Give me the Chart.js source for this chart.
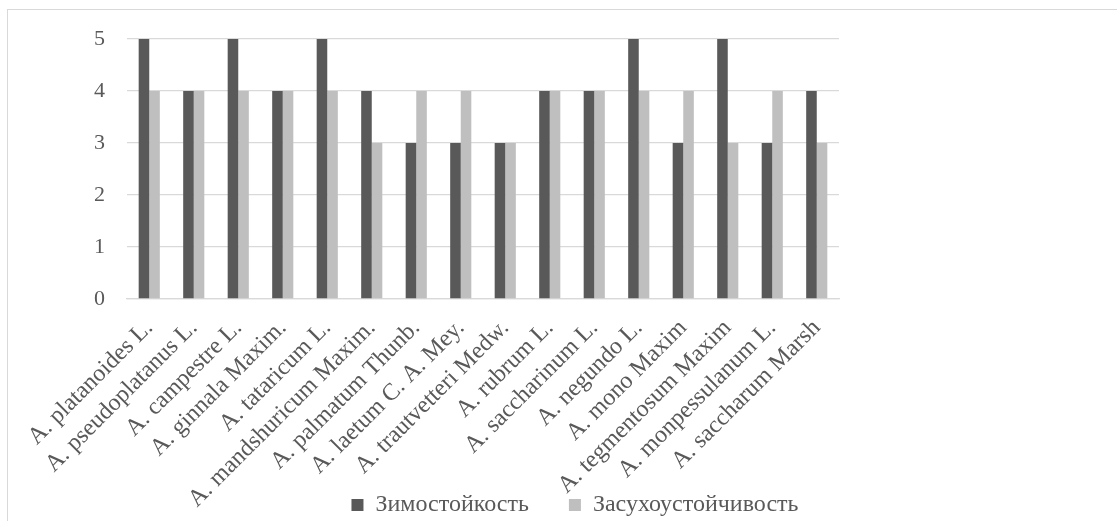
<!DOCTYPE html>
<html>
<head>
<meta charset="utf-8">
<script src="https://cdn.jsdelivr.net/npm/chart.js@4/dist/chart.umd.min.js"></script>
<style>
  html, body { margin: 0; padding: 0; background: #ffffff; overflow: hidden; }
  #frame {
    position: absolute; left: 7px; top: 9px;
    width: 1134px; height: 600px;
    border: 1px solid #d9d9d9; background: #ffffff;
  }
  canvas { display: block; }
</style>
</head>
<body>
<div id="frame"><canvas id="chart" width="1134" height="600" style="width:1134px;height:600px"></canvas></div>
<script>
// Maple species (Acer) and their hardiness scores
const species = [
  'A. platanoides L.', 'A. pseudoplatanus L.', 'A. campestre L.', 'A. ginnala Maxim.',
  'A. tataricum L.', 'A. mandshuricum Maxim.', 'A. palmatum Thunb.', 'A. laetum C. A. Mey.',
  'A. trautvetteri Medw.', 'A. rubrum L.', 'A. saccharinum L.', 'A. negundo L.',
  'A. mono Maxim', 'A. tegmentosum Maxim', 'A. monpessulanum L.', 'A. saccharum Marsh'
];
const winterHardiness = [5, 4, 5, 4, 5, 4, 3, 3, 3, 4, 4, 5, 3, 5, 3, 4];
const droughtTolerance = [4, 4, 4, 4, 4, 3, 4, 4, 3, 4, 4, 4, 4, 3, 4, 3];
const yTicks = [0, 1, 2, 3, 4, 5];

const serif = "'Times New Roman', 'Liberation Serif', serif";
const textColor = '#595959';
const gridColor = '#d9d9d9';

const CANVAS_H = 600;
const PLOT_TOP = 29;
const PLOT_BOTTOM = 289;
const LEGEND_PADDING = 40;
const LEGEND_FONT = 24;
const LEGEND_CENTER_X = 567;   // canvas x of the legend row centre
const LEGEND_CENTER_Y = 495;   // canvas y of the legend row centre

// The long rotated category labels reach down to the legend row, so the
// x axis box is kept tall and the legend row is placed after layout.
const legendRow = {
  id: 'legendRow',
  afterLayout(chart) {
    const lg = chart.legend;
    if (!lg) return;
    const h = lg.height, w = lg.width;
    lg.top = LEGEND_CENTER_Y - LEGEND_PADDING - LEGEND_FONT / 2;
    lg.bottom = lg.top + h;
    lg.left = LEGEND_CENTER_X - w / 2;
    lg.right = LEGEND_CENTER_X + w / 2;
  }
};

new Chart(document.getElementById('chart'), {
  type: 'bar',
  data: {
    labels: species,
    datasets: [
      { label: 'Зимостойкость', data: winterHardiness, backgroundColor: '#595959',
        borderWidth: 0, categoryPercentage: 0.475, barPercentage: 1 },
      { label: 'Засухоустойчивость', data: droughtTolerance, backgroundColor: '#bfbfbf',
        borderWidth: 0, categoryPercentage: 0.475, barPercentage: 1 }
    ]
  },
  plugins: [legendRow],
  options: {
    responsive: false,
    animation: false,
    layout: { padding: { top: PLOT_TOP, right: 303, bottom: 0, left: 0 } },
    plugins: {
      tooltip: { enabled: false },
      legend: {
        position: 'bottom',
        labels: {
          color: textColor,
          font: { family: serif, size: LEGEND_FONT },
          boxWidth: 12, boxHeight: 12,
          padding: LEGEND_PADDING
        }
      }
    },
    scales: {
      x: {
        grid: { display: false, drawTicks: false },
        border: { display: true, color: gridColor, width: 1.3 },
        ticks: {
          color: textColor,
          font: { family: serif, size: 24 },
          autoSkip: false, maxRotation: 45, minRotation: 45,
          padding: 15
        },
        afterFit: (scale) => {
          scale.height = CANVAS_H - (LEGEND_FONT + LEGEND_PADDING + 10) - PLOT_BOTTOM;
        }
      },
      y: {
        min: 0, max: 5,
        grid: { color: gridColor, lineWidth: 1.3, drawTicks: false },
        border: { display: false },
        ticks: {
          color: textColor,
          font: { family: serif, size: 22 },
          stepSize: 1, padding: 22,
          callback: (v) => yTicks.includes(v) ? String(v) : ''
        },
        afterFit: (scale) => {
          scale.width = 119;
          scale.paddingTop = 0;
          scale.paddingBottom = 0;
        }
      }
    }
  }
});
</script>
</body>
</html>
